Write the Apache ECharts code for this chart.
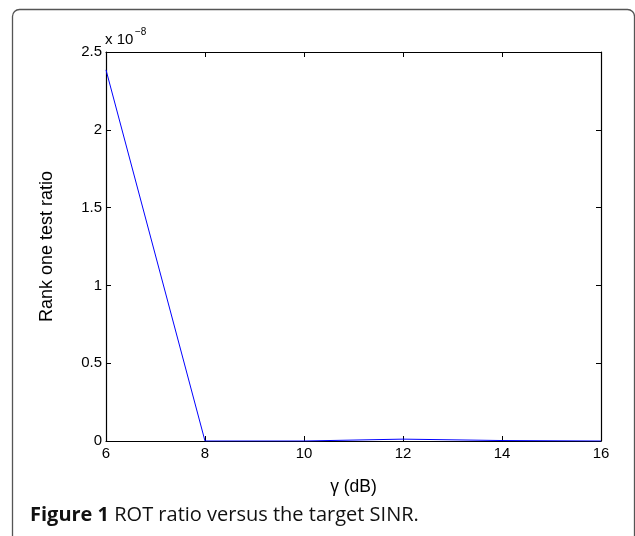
<!DOCTYPE html>
<html>
<head>
<meta charset="utf-8">
<script src="https://cdn.jsdelivr.net/npm/echarts@6/dist/echarts.min.js"></script>
<style>
html,body{margin:0;padding:0;background:#fff;}
#chart{width:635px;height:536px;}
</style>
</head>
<body>
<div id="chart"></div>
<script>
// Data (y values in units of 1e-8)
var gammaDb = [6, 8, 10, 12, 14, 16];
var rankOneRatio = [2.385, 0.0, 0.0, 0.012, 0.003, 0.0];
var yTickLabels = ['0', '0.5', '1', '1.5', '2', '2.5'];
var xTickLabels = ['6', '8', '10', '12', '14', '16'];
var yExponentText = 'x 10';
var yExponent = '−8';
var xAxisTitle = 'γ (dB)';
var yAxisTitle = 'Rank one test ratio';
var captionBold = 'Figure 1';
var captionRest = ' ROT ratio versus the target SINR.';

var chart = echarts.init(document.getElementById('chart'), null, {renderer: 'canvas'});
var font = '"Liberation Sans", Arial, Helvetica, sans-serif';
var seriesData = gammaDb.map(function (x, i) { return [x, rankOneRatio[i]]; });

var axisLine = {show: true, onZero: false, lineStyle: {color: '#000', width: 1.2}};
var axisTick = {show: true, inside: true, length: 5, lineStyle: {color: '#000', width: 1}};

var option = {
  backgroundColor: '#fff',
  animation: false,
  grid: {left: 106, right: 34, top: 52, bottom: 95, containLabel: false},
  xAxis: [{
    type: 'value', min: 6, max: 16, interval: 2, position: 'bottom',
    axisLine: axisLine, axisTick: axisTick, splitLine: {show: false},
    axisLabel: {color: '#000', fontSize: 15, fontFamily: font, margin: 5,
      formatter: function (v) { var i = gammaDb.indexOf(v); return i >= 0 ? xTickLabels[i] : ''; }},
    name: xAxisTitle, nameLocation: 'middle', nameGap: 37,
    nameTextStyle: {color: '#000', fontSize: 17.5, fontFamily: font}
  }, {
    type: 'value', min: 6, max: 16, interval: 2, position: 'top',
    axisLine: axisLine, axisTick: axisTick, splitLine: {show: false}, axisLabel: {show: false}
  }],
  yAxis: [{
    type: 'value', min: 0, max: 2.5, interval: 0.5, position: 'left',
    axisLine: axisLine, axisTick: axisTick, splitLine: {show: false},
    axisLabel: {color: '#000', fontSize: 15, fontFamily: font, margin: 4,
      formatter: function (v) { return yTickLabels[Math.round(v / 0.5)]; }},
    name: yAxisTitle, nameLocation: 'middle', nameGap: 50, nameRotate: 90,
    nameTextStyle: {color: '#000', fontSize: 18, fontFamily: font}
  }, {
    type: 'value', min: 0, max: 2.5, interval: 0.5, position: 'right',
    axisLine: axisLine, axisTick: axisTick, splitLine: {show: false}, axisLabel: {show: false}
  }],
  series: [{
    type: 'line', data: seriesData, xAxisIndex: 0, yAxisIndex: 0,
    symbol: 'none', lineStyle: {color: '#0000ff', width: 1}, z: 5
  }],
  graphic: [
    {type: 'rect', shape: {x: 12.5, y: 9.5, width: 622, height: 560, r: 7},
      style: {fill: 'none', stroke: '#555', lineWidth: 1.3}, silent: true, z: 0},
    {type: 'text', x: 105, y: 39.5,
      style: {text: yExponentText, fontSize: 15, fontFamily: font, fill: '#000', verticalAlign: 'middle'}},
    {type: 'text', x: 135, y: 32,
      style: {text: yExponent, fontSize: 10, fontFamily: font, fill: '#000', verticalAlign: 'middle'}},
    {type: 'text', x: 30, y: 515,
      style: {text: '{b|' + captionBold + '}{r|' + captionRest + '}', verticalAlign: 'middle',
        rich: {b: {fontSize: 20, fontWeight: 'bold', fontFamily: '"Open Sans", sans-serif', fill: '#111'},
               r: {fontSize: 20, fontFamily: '"Open Sans", sans-serif', fill: '#111'}}}}
  ]
};
chart.setOption(option);
</script>
</body>
</html>
